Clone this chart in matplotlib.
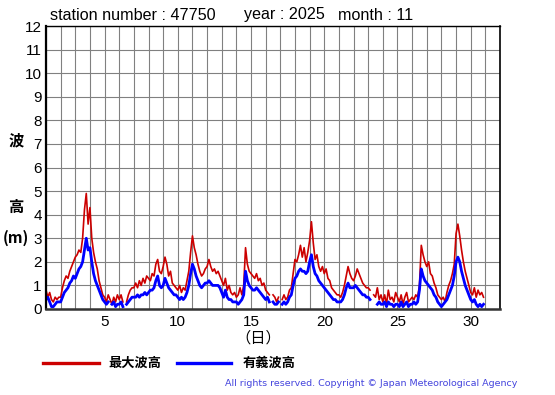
import numpy as np
import matplotlib
matplotlib.use("Agg")
import matplotlib.pyplot as plt
from matplotlib.lines import Line2D

plt.rcParams['font.family'] = ['Liberation Sans', 'Noto Sans CJK JP', 'DejaVu Sans']

nan = np.nan

# header info
station = "47750"
year = 2025
month = 11

# 3-hourly values (00,03,...,21h), one row per day
max_wave = [
    0.8, 0.5, 0.7, 0.4, 0.3, 0.5, 0.4, 0.5,   # 1
    0.5, 0.9, 1.2, 1.4, 1.3, 1.6, 1.8, 2.0,   # 2
    2.2, 2.3, 2.5, 2.4, 3.0, 4.2, 4.9, 3.6,   # 3
    4.3, 3.0, 2.4, 2.0, 1.7, 1.2, 0.9, 0.6,   # 4
    0.5, 0.3, 0.6, 0.4, 0.2, 0.5, 0.3, 0.6,   # 5
    0.4, 0.6, 0.3, nan, 0.3, 0.6, 0.8, 0.9,   # 6
    0.9, 1.1, 0.9, 1.2, 1.0, 1.3, 1.1, 1.4,   # 7
    1.3, 1.2, 1.5, 1.4, 1.9, 2.1, 1.6, 1.5,   # 8
    1.8, 2.2, 1.9, 1.4, 1.6, 1.1, 1.0, 0.9,   # 9
    0.8, 1.0, 0.7, 0.9, 0.8, 1.2, 1.6, 2.4,   # 10
    3.1, 2.6, 2.3, 1.9, 1.6, 1.4, 1.5, 1.7,   # 11
    1.8, 2.1, 1.8, 1.6, 1.7, 1.5, 1.6, 1.4,   # 12
    1.2, 1.0, 1.3, 0.8, 1.0, 0.7, 0.6, 0.7,   # 13
    0.5, 0.6, 0.9, 0.6, 1.0, 2.6, 1.9, 1.6,   # 14
    1.5, 1.4, 1.3, 1.5, 1.2, 1.3, 1.0, 1.1,   # 15
    0.8, 0.7, 0.6, nan, 0.6, 0.5, 0.3, 0.5,   # 16
    nan, 0.4, 0.6, 0.4, 0.5, 0.8, 0.9, 1.5,   # 17
    2.1, 2.0, 2.3, 2.7, 2.2, 2.6, 2.0, 2.4,   # 18
    2.9, 3.7, 2.8, 2.1, 2.3, 1.8, 1.6, 1.8,   # 19
    1.5, 1.7, 1.3, 1.2, 0.9, 0.8, 0.7, 0.6,   # 20
    0.6, 0.5, 0.7, 1.0, 1.4, 1.8, 1.5, 1.3,   # 21
    1.2, 1.4, 1.7, 1.5, 1.3, 1.1, 1.0, 0.9,   # 22
    0.9, 0.8, nan, 0.6, 0.5, 0.9, 0.4, 0.6,   # 23
    0.3, 0.6, 0.2, 0.8, 0.4, 0.5, 0.3, 0.7,   # 24
    0.5, 0.3, 0.6, 0.2, 0.5, 0.7, 0.3, 0.4,   # 25
    0.5, 0.4, 0.6, 0.5, 1.0, 2.7, 2.3, 2.0,   # 26
    1.8, 2.0, 1.5, 1.4, 1.1, 0.9, 0.6, 0.5,   # 27
    0.4, 0.5, 0.3, 0.7, 1.0, 1.2, 1.5, 1.9,   # 28
    3.2, 3.6, 3.1, 2.5, 2.0, 1.6, 1.3, 1.0,   # 29
    0.7, 0.6, 0.9, 0.5, 0.8, 0.6, 0.7, 0.5,   # 30
]

sig_wave = [
    0.4, 0.5, 0.3, 0.1, 0.1, 0.2, 0.3, 0.3,   # 1
    0.3, 0.5, 0.7, 0.8, 0.9, 1.1, 1.2, 1.4,   # 2
    1.3, 1.5, 1.7, 1.8, 2.0, 2.5, 3.0, 2.5,   # 3
    2.6, 2.0, 1.5, 1.2, 1.0, 0.8, 0.6, 0.4,   # 4
    0.3, 0.2, 0.3, nan, 0.2, 0.3, 0.1, 0.2,   # 5
    0.2, 0.3, 0.1, nan, 0.2, 0.3, 0.4, 0.5,   # 6
    0.5, 0.5, 0.6, 0.5, 0.6, 0.6, 0.7, 0.6,   # 7
    0.7, 0.8, 0.8, 0.9, 1.2, 1.4, 1.0, 0.9,   # 8
    1.0, 1.3, 1.1, 0.9, 0.8, 0.7, 0.6, 0.6,   # 9
    0.5, 0.4, 0.5, 0.4, 0.5, 0.7, 1.0, 1.5,   # 10
    1.9, 1.7, 1.4, 1.2, 1.0, 0.9, 1.0, 1.1,   # 11
    1.1, 1.2, 1.1, 1.0, 1.0, 1.0, 1.0, 0.9,   # 12
    0.7, 0.5, 0.8, 0.5, 0.4, 0.4, 0.3, 0.3,   # 13
    0.3, 0.2, 0.3, 0.4, 0.6, 1.6, 1.2, 1.0,   # 14
    0.9, 0.8, 0.8, 0.9, 0.8, 0.7, 0.6, 0.5,   # 15
    0.4, 0.5, 0.3, nan, 0.3, 0.2, 0.2, 0.3,   # 16
    nan, 0.2, 0.3, 0.2, 0.3, 0.5, 0.6, 1.0,   # 17
    1.3, 1.4, 1.6, 1.7, 1.6, 1.6, 1.5, 1.6,   # 18
    2.0, 2.3, 1.8, 1.5, 1.4, 1.2, 1.1, 1.0,   # 19
    0.9, 0.8, 0.7, 0.6, 0.5, 0.4, 0.4, 0.3,   # 20
    0.3, 0.3, 0.4, 0.6, 0.9, 1.1, 0.9, 0.9,   # 21
    0.9, 1.0, 0.9, 0.8, 0.7, 0.6, 0.6, 0.5,   # 22
    0.5, 0.4, nan, 0.3, nan, 0.2, 0.3, 0.2,   # 23
    0.2, 0.3, 0.1, 0.3, 0.2, 0.2, 0.1, 0.2,   # 24
    0.2, 0.1, 0.3, 0.1, 0.2, 0.3, 0.1, 0.2,   # 25
    0.2, 0.3, 0.2, 0.3, 0.8, 1.7, 1.4, 1.2,   # 26
    1.1, 1.0, 0.9, 0.8, 0.6, 0.5, 0.3, 0.2,   # 27
    0.1, 0.2, 0.3, 0.4, 0.6, 0.8, 1.0, 1.4,   # 28
    2.0, 2.2, 2.0, 1.6, 1.3, 1.0, 0.8, 0.6,   # 29
    0.4, 0.3, 0.4, 0.2, 0.1, 0.2, 0.1, 0.2,   # 30
]

x_ticks = [5, 10, 15, 20, 25, 30]
y_ticks = list(range(0, 13))

per_day = 8
t = 1 + np.arange(len(max_wave)) / per_day   # day 1 00h -> 1.0

fig = plt.figure(figsize=(5.55, 3.95), dpi=100)
W, H = 555, 395
ax = fig.add_axes([46 / W, 1 - 309 / H, 454 / W, 283 / H])

ax.plot(t, max_wave, color='#cc0000', lw=1.2)
ax.plot(t, sig_wave, color='#0000ff', lw=2.0)

ax.set_xlim(1, 32)
ax.set_ylim(0, 12)
ax.set_xticks(range(1, 33))
ax.set_xticklabels([str(d) if d in x_ticks else '' for d in range(1, 33)])
ax.set_yticks(y_ticks)
ax.tick_params(length=0, labelsize=11, colors='black')
ax.tick_params(axis='y', pad=3)
ax.tick_params(axis='x', pad=4)
ax.grid(True, color='#808080', lw=0.8)
ax.set_axisbelow(True)

ax.spines['left'].set_linewidth(1.6)
ax.spines['bottom'].set_linewidth(1.8)
ax.spines['bottom'].set_color('#333333')
ax.spines['top'].set_linewidth(1.0)
ax.spines['right'].set_linewidth(1.2)

# header
fig.text(50 / W, 1 - 15 / H, "station number : %s" % station, fontsize=11.6, va='center')
fig.text(244 / W, 1 - 15 / H, "year : %d" % year, fontsize=11.6, va='center')
fig.text(338 / W, 1 - 15 / H, "month : %d" % month, fontsize=11.6, va='center')

# y label, one char per line
for s, yy in [("波", 140), ("高", 207), ("(m)", 238)]:
    fig.text(16 / W, 1 - yy / H, s, fontsize=11, ha='center', va='center',
             fontweight='bold', family=['Noto Sans CJK JP'])

fig.text(258 / W, 1 - 338 / H, "（日）", fontsize=11, ha='center', va='center',
         family=['Noto Sans CJK JP'])

# legend
fig.add_artist(Line2D([43 / W, 99 / W], [1 - 363 / H] * 2, color='#cc0000', lw=2.4))
fig.text(108 / W, 1 - 363 / H, "最大波高", fontsize=9.5, va='center',
         fontweight='bold', family=['Noto Sans CJK JP'])
fig.add_artist(Line2D([177 / W, 231 / W], [1 - 363 / H] * 2, color='#0000ff', lw=2.4))
fig.text(243 / W, 1 - 363 / H, "有義波高", fontsize=9.5, va='center',
         fontweight='bold', family=['Noto Sans CJK JP'])

fig.text(517 / W, 1 - 384 / H,
         "All rights reserved. Copyright © Japan Meteorological Agency",
         fontsize=6.8, color='#4444dd', ha='right', va='center',
         family=['DejaVu Sans'])

fig.savefig("out.png", dpi=100)
